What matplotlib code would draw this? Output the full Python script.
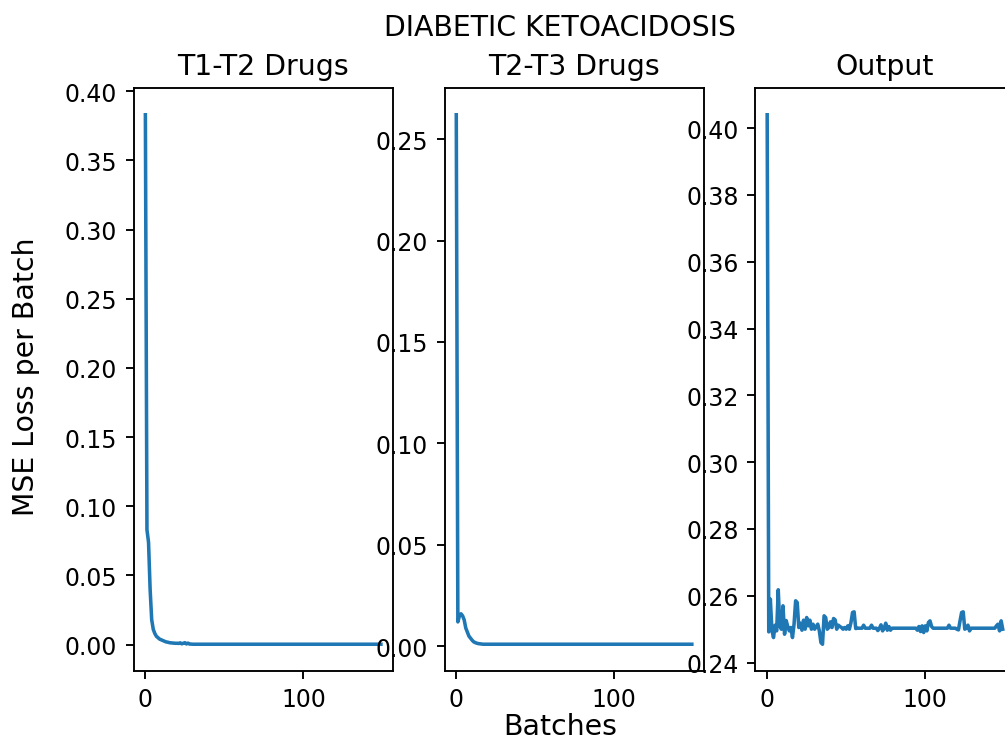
import numpy as np
import matplotlib
matplotlib.use("Agg")
import matplotlib.pyplot as plt

suptitle = "DIABETIC KETOACIDOSIS"
panel_titles = ["T1-T2 Drugs", "T2-T3 Drugs", "Output"]
x_label = "Batches"
y_label = "MSE Loss per Batch"
x_ticks = [0, 100]

t1_t2_loss = [
    0.383, 0.083, 0.074, 0.040, 0.018, 0.011, 0.008, 0.006, 0.005, 0.004,
    0.0035, 0.0030, 0.0025, 0.0020, 0.0018, 0.0015, 0.0013, 0.0012, 0.0011, 0.0010,
    0.0010, 0.0009, 0.0013, 0.0006, 0.0010, 0.0014, 0.0005, 0.0011, 0.0004, 0.0004,
    0.0003, 0.0003, 0.0003, 0.0003, 0.0003, 0.0003, 0.0003, 0.0003, 0.0003, 0.0003,
    0.0003, 0.0003, 0.0003, 0.0003, 0.0003, 0.0003, 0.0003, 0.0003, 0.0003, 0.0003,
    0.0003, 0.0003, 0.0003, 0.0003, 0.0003, 0.0003, 0.0003, 0.0003, 0.0003, 0.0003,
    0.0003, 0.0003, 0.0003, 0.0003, 0.0003, 0.0003, 0.0003, 0.0003, 0.0003, 0.0003,
    0.0003, 0.0003, 0.0003, 0.0003, 0.0003, 0.0003, 0.0003, 0.0003, 0.0003, 0.0003,
    0.0003, 0.0003, 0.0003, 0.0003, 0.0003, 0.0003, 0.0003, 0.0003, 0.0003, 0.0003,
    0.0003, 0.0003, 0.0003, 0.0003, 0.0003, 0.0003, 0.0003, 0.0003, 0.0003, 0.0003,
    0.0003, 0.0003, 0.0003, 0.0003, 0.0003, 0.0003, 0.0003, 0.0003, 0.0003, 0.0003,
    0.0003, 0.0003, 0.0003, 0.0003, 0.0003, 0.0003, 0.0003, 0.0003, 0.0003, 0.0003,
    0.0003, 0.0003, 0.0003, 0.0003, 0.0003, 0.0003, 0.0003, 0.0003, 0.0003, 0.0003,
    0.0003, 0.0003, 0.0003, 0.0003, 0.0003, 0.0003, 0.0003, 0.0003, 0.0003, 0.0003,
    0.0003, 0.0003, 0.0003, 0.0003, 0.0003, 0.0003, 0.0003, 0.0003, 0.0003, 0.0003,
]

t2_t3_loss = [
    0.262, 0.012, 0.015, 0.016, 0.015, 0.013, 0.009, 0.007, 0.005, 0.004,
    0.0030, 0.0022, 0.0018, 0.0015, 0.0013, 0.0012, 0.0011, 0.0010, 0.0010, 0.0010,
    0.0010, 0.0010, 0.0010, 0.0010, 0.0010, 0.0010, 0.0010, 0.0010, 0.0010, 0.0010,
    0.0010, 0.0010, 0.0010, 0.0010, 0.0010, 0.0010, 0.0010, 0.0010, 0.0010, 0.0010,
    0.0010, 0.0010, 0.0010, 0.0010, 0.0010, 0.0010, 0.0010, 0.0010, 0.0010, 0.0010,
    0.0010, 0.0010, 0.0010, 0.0010, 0.0010, 0.0010, 0.0010, 0.0010, 0.0010, 0.0010,
    0.0010, 0.0010, 0.0010, 0.0010, 0.0010, 0.0010, 0.0010, 0.0010, 0.0010, 0.0010,
    0.0010, 0.0010, 0.0010, 0.0010, 0.0010, 0.0010, 0.0010, 0.0010, 0.0010, 0.0010,
    0.0010, 0.0010, 0.0010, 0.0010, 0.0010, 0.0010, 0.0010, 0.0010, 0.0010, 0.0010,
    0.0010, 0.0010, 0.0010, 0.0010, 0.0010, 0.0010, 0.0010, 0.0010, 0.0010, 0.0010,
    0.0010, 0.0010, 0.0010, 0.0010, 0.0010, 0.0010, 0.0010, 0.0010, 0.0010, 0.0010,
    0.0010, 0.0010, 0.0010, 0.0010, 0.0010, 0.0010, 0.0010, 0.0010, 0.0010, 0.0010,
    0.0010, 0.0010, 0.0010, 0.0010, 0.0010, 0.0010, 0.0010, 0.0010, 0.0010, 0.0010,
    0.0010, 0.0010, 0.0010, 0.0010, 0.0010, 0.0010, 0.0010, 0.0010, 0.0010, 0.0010,
    0.0010, 0.0010, 0.0010, 0.0010, 0.0010, 0.0010, 0.0010, 0.0010, 0.0010, 0.0010,
]

output_loss = [
    0.4040, 0.2492, 0.2590, 0.2497, 0.2475, 0.2512, 0.2495, 0.2618, 0.2508, 0.2500,
    0.2570, 0.2485, 0.2526, 0.2508, 0.2495, 0.2505, 0.2475, 0.2515, 0.2585, 0.2580,
    0.2505, 0.2518, 0.2497, 0.2527, 0.2500, 0.2535, 0.2510, 0.2527, 0.2500, 0.2515,
    0.2500, 0.2508, 0.2515, 0.2495, 0.2460, 0.2455, 0.2540, 0.2535, 0.2500, 0.2505,
    0.2522, 0.2505, 0.2532, 0.2528, 0.2500, 0.2512, 0.2508, 0.2505, 0.2500, 0.2505,
    0.2500, 0.2510, 0.2500, 0.2520, 0.2550, 0.2552, 0.2502, 0.2503, 0.2503, 0.2503,
    0.2503, 0.2512, 0.2503, 0.2503, 0.2503, 0.2503, 0.2512, 0.2503, 0.2503, 0.2503,
    0.2496, 0.2503, 0.2513, 0.2495, 0.2503, 0.2518, 0.2497, 0.2508, 0.2497, 0.2503,
    0.2503, 0.2503, 0.2503, 0.2503, 0.2503, 0.2503, 0.2503, 0.2503, 0.2503, 0.2503,
    0.2503, 0.2503, 0.2503, 0.2503, 0.2503, 0.2497, 0.2508, 0.2493, 0.2510, 0.2490,
    0.2510, 0.2495, 0.2520, 0.2525, 0.2508, 0.2503, 0.2503, 0.2503, 0.2503, 0.2503,
    0.2503, 0.2503, 0.2503, 0.2503, 0.2503, 0.2512, 0.2503, 0.2503, 0.2503, 0.2503,
    0.2500, 0.2498, 0.2525, 0.2550, 0.2552, 0.2500, 0.2503, 0.2512, 0.2495, 0.2503,
    0.2503, 0.2503, 0.2503, 0.2503, 0.2503, 0.2503, 0.2503, 0.2503, 0.2503, 0.2503,
    0.2503, 0.2503, 0.2503, 0.2503, 0.2503, 0.2510, 0.2515, 0.2495, 0.2525, 0.2500,
]

series = [t1_t2_loss, t2_t3_loss, output_loss]

W, H, DPI = 1005, 742, 170
fig = plt.figure(figsize=(W / DPI, H / DPI), dpi=DPI)

ax_lefts_px = [133.6, 444.5, 755.4]
ax_w_px = 259.1
ax_top_px, ax_bot_px = 89.3, 671.7

for left_px, title, vals in zip(ax_lefts_px, panel_titles, series):
    ax = fig.add_axes([left_px / W, 1 - ax_bot_px / H,
                       ax_w_px / W, (ax_bot_px - ax_top_px) / H])
    ax.plot(np.arange(len(vals)), vals)
    ax.set_title(title)
    ax.set_xticks(x_ticks)

fig.suptitle(suptitle, x=560 / W, y=1 - 13.7 / H, va="top")
fig.supxlabel(x_label, x=560 / W, y=0.5 / H, va="bottom")
fig.supylabel(y_label, x=12 / W, y=1 - 377 / H, ha="left", va="center")

fig.savefig("out.png", dpi=DPI)
